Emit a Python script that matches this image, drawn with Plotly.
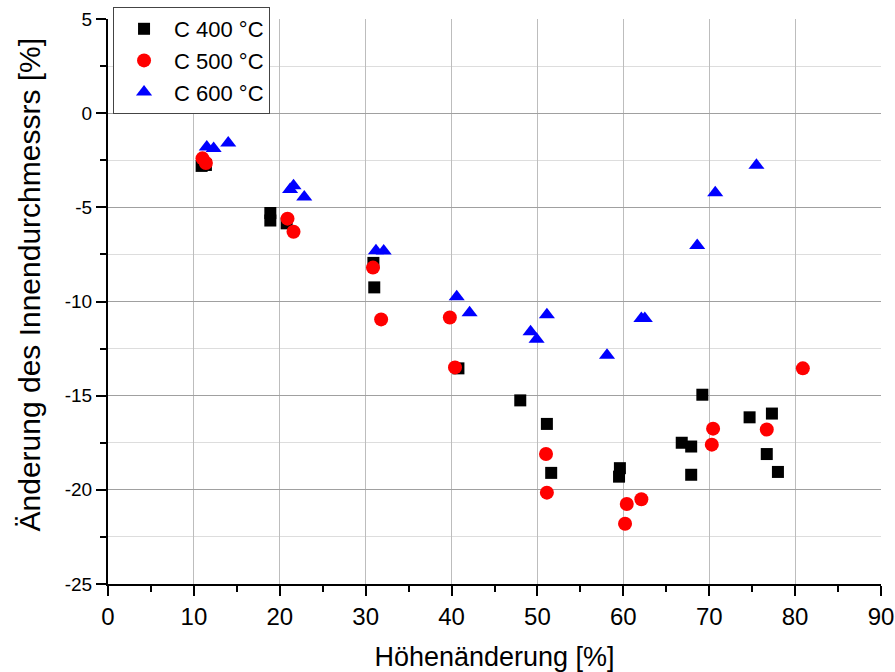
import plotly.graph_objects as go

# C 400 °C
x400 = [10.9, 11.4, 18.9, 18.9, 20.8, 30.9, 31.0, 40.8, 48.0, 51.1, 51.6, 59.6, 59.5, 69.2, 66.8, 67.9, 67.9, 74.7, 77.3, 76.7, 78.0]
y400 = [-2.8, -2.75, -5.3, -5.7, -5.85, -7.95, -9.25, -13.55, -15.25, -16.5, -19.1, -18.85, -19.3, -14.95, -17.5, -17.7, -19.2, -16.15, -15.95, -18.1, -19.05]
# C 500 °C
x500 = [11.0, 11.4, 20.9, 21.6, 30.85, 31.8, 39.8, 40.4, 51.0, 51.1, 60.4, 62.1, 60.2, 70.45, 70.3, 76.7, 80.9]
y500 = [-2.4, -2.65, -5.6, -6.3, -8.2, -10.95, -10.85, -13.5, -18.1, -20.15, -20.75, -20.5, -21.8, -16.75, -17.6, -16.8, -13.55]
# C 600 °C
x600 = [11.5, 12.3, 14.0, 21.2, 21.6, 22.85, 31.2, 32.1, 40.6, 42.1, 51.1, 49.2, 49.9, 58.1, 62.1, 62.5, 68.6, 70.7, 75.5]
y600 = [-1.8, -1.88, -1.58, -4.05, -3.85, -4.45, -7.3, -7.32, -9.75, -10.6, -10.7, -11.6, -12.0, -12.85, -10.9, -10.9, -7.02, -4.22, -2.77]

names = ["C 400 °C", "C 500 °C", "C 600 °C"]
xticks = [0, 10, 20, 30, 40, 50, 60, 70, 80, 90]
yticks = [-25, -20, -15, -10, -5, 0, 5]
yticktext = ["-25", "-20", "-15", "-10", "-5", "0", "5"]
xtitle = "Höhenänderung [%]"
ytitle = "Änderung des Innendurchmessrs [%]"

fig = go.Figure()
fig.add_trace(go.Scatter(x=x400, y=y400, mode="markers", name=names[0],
                         marker=dict(symbol="square", color="black", size=12)))
fig.add_trace(go.Scatter(x=x500, y=y500, mode="markers", name=names[1],
                         marker=dict(symbol="circle", color="red", size=14)))
fig.add_trace(go.Scatter(x=x600, y=y600, mode="markers", name=names[2],
                         marker=dict(symbol="triangle-up", color="blue", size=14)))

fnt = "Arial, Liberation Sans, sans-serif"
narrow = "Liberation Sans Narrow, Arial Narrow, Arial, sans-serif"
fig.update_layout(
    width=895, height=672,
    margin=dict(l=108, r=14, t=19, b=88, autoexpand=False),
    plot_bgcolor="white", paper_bgcolor="white",
    font=dict(family=fnt, color="black", size=20),
    showlegend=True,
    legend=dict(xref="container", yref="container", x=0.1263, y=0.9896,
                xanchor="left", yanchor="top",
                bordercolor="#444", borderwidth=1, bgcolor="white",
                font=dict(size=22, family=fnt), itemsizing="trace",
                itemwidth=50),
    xaxis=dict(range=[0, 90], tickvals=xticks, ticktext=[str(v) for v in xticks],
               automargin=False,
               showline=True, linecolor="black", linewidth=2,
               ticks="outside", ticklen=10, tickwidth=2, tickcolor="black",
               showgrid=True, gridcolor="#bdbdbd", gridwidth=1, zeroline=False,
               minor=dict(dtick=5, ticks="outside", ticklen=6, tickwidth=2, tickcolor="black", showgrid=False),
               title=dict(text=xtitle, font=dict(size=27, family=fnt), standoff=18),
               tickfont=dict(size=24, family=narrow)),
    yaxis=dict(range=[-25, 5], tickvals=yticks, ticktext=yticktext,
               automargin=False,
               showline=True, linecolor="black", linewidth=2,
               ticks="outside", ticklen=10, tickwidth=2, tickcolor="black",
               showgrid=True, gridcolor="#a0a0a0", gridwidth=1, zeroline=False,
               minor=dict(dtick=2.5, ticks="outside", ticklen=6, tickwidth=2, tickcolor="black",
                          showgrid=True, gridcolor="#dddddd", gridwidth=1),
               tickfont=dict(size=19, family=fnt)),
    annotations=[dict(text=ytitle, textangle=-90, xref="paper", yref="paper",
                      x=-0.101, y=0.53, xanchor="center", yanchor="middle",
                      showarrow=False, font=dict(size=30, family=fnt, color="black"))],
)
fig.write_html("out.html")
